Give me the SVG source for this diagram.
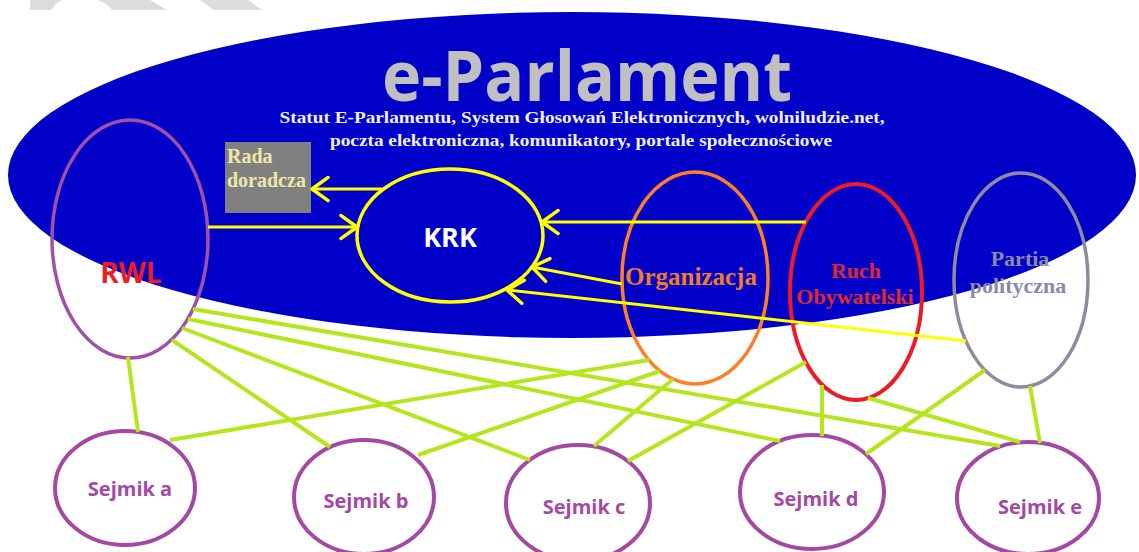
<svg xmlns="http://www.w3.org/2000/svg" width="1139" height="552" viewBox="0 0 1139 552">
<defs>
<style>
.ser{font-family:"Liberation Serif","Times New Roman",serif;font-weight:bold}
.sans{font-family:"Open Sans","Liberation Sans",Arial,sans-serif;font-weight:bold}
.sej{fill:none;stroke:#a349a4;stroke-width:4}
.sejt{font-family:"Open Sans","Liberation Sans",Arial,sans-serif;font-weight:bold;font-size:20px;fill:#a349a4;text-anchor:middle}
.g{stroke:#b5e61d;stroke-width:4;fill:none}
.y{stroke:#ffff00;stroke-width:3;fill:none}
.ya{stroke:#ffff00;stroke-width:3;fill:none;marker-end:url(#ah)}
</style>
<marker id="ah" markerUnits="userSpaceOnUse" markerWidth="30" markerHeight="30" refX="0" refY="0" viewBox="-16 -13 18 26" orient="auto" overflow="visible">
<path d="M-14,-10 L0,0 L-14,10" fill="none" stroke="#ffff00" stroke-width="3" stroke-linecap="round" stroke-linejoin="round"/>
</marker>
</defs>
<rect x="0" y="0" width="1139" height="552" fill="#ffffff"/>
<g id="watermark" fill="#dcdcdc">
<path d="M30,0 L62,0 Q54,4 52,10 L30,10 Z"/>
<path d="M98,0 L150,0 L167,10 L112,10 Q108,4 98,0 Z"/>
<path d="M200,0 L248,0 L262,10 L214,10 Z"/>
</g>
<g id="e-parlament">
<ellipse cx="572" cy="175" rx="564" ry="163" fill="#0000c8"/>
<text x="587" y="101" class="sans" font-size="70" fill="#c0c0c0" text-anchor="middle" textLength="410" lengthAdjust="spacingAndGlyphs">e-Parlament</text>
<text x="582" y="123" class="ser" font-size="17" fill="#f0f0ff" text-anchor="middle" textLength="605" lengthAdjust="spacingAndGlyphs">Statut E-Parlamentu, System Głosowań Elektronicznych, wolniludzie.net,</text>
<text x="581" y="146" class="ser" font-size="17" fill="#f0f0ff" text-anchor="middle" textLength="502" lengthAdjust="spacingAndGlyphs">poczta elektroniczna, komunikatory, portale społecznościowe</text>
</g>
<g id="rada">
<rect x="225" y="142" width="86" height="71" fill="#808080"/>
<text x="227" y="163" class="ser" font-size="20" fill="#eee8aa">Rada</text>
<text x="227" y="187" class="ser" font-size="20" fill="#eee8aa">doradcza</text>
</g>
<g id="rwl">
<ellipse cx="130" cy="239" rx="78" ry="119" fill="none" stroke="#a050a8" stroke-width="3.5"/>
<text x="131" y="283" class="sans" font-size="28" fill="#ee1c24" text-anchor="middle">RWL</text>
</g>
<g id="krk">
<ellipse cx="450" cy="235.5" rx="93" ry="66.5" fill="none" stroke="#ffff00" stroke-width="3.5"/>
<text x="450" y="247" class="sans" font-size="27" fill="#ffffff" text-anchor="middle">KRK</text>
</g>
<g id="organizacja">
<ellipse cx="695" cy="278" rx="73" ry="106" fill="none" stroke="#ff7f27" stroke-width="3.5"/>
<text x="691" y="285" class="ser" font-size="25" fill="#f47a2a" text-anchor="middle">Organizacja</text>
</g>
<g id="ruch">
<ellipse cx="856" cy="292" rx="66" ry="108" fill="none" stroke="#ed1c24" stroke-width="4"/>
<text x="856" y="278" class="ser" font-size="22" fill="#e0282d" text-anchor="middle">Ruch</text>
<text x="855" y="304" class="ser" font-size="22" fill="#e0282d" text-anchor="middle">Obywatelski</text>
</g>
<g id="partia">
<ellipse cx="1021" cy="280" rx="67" ry="107" fill="none" stroke="#8f8b9f" stroke-width="3.5"/>
<text x="1020" y="266" class="ser" font-size="22" fill="#8a8aa6" text-anchor="middle">Partia</text>
<text x="1018" y="293" class="ser" font-size="22" fill="#8a8aa6" text-anchor="middle">polityczna</text>
</g>
<g id="sejmik-a"><ellipse class="sej" cx="125" cy="488" rx="70" ry="57"/><text class="sejt" x="130" y="496">Sejmik a</text></g>
<g id="sejmik-b"><ellipse class="sej" cx="364" cy="497" rx="70" ry="57"/><text class="sejt" x="366" y="508">Sejmik b</text></g>
<g id="sejmik-c"><ellipse class="sej" cx="578" cy="503" rx="72" ry="58"/><text class="sejt" x="584" y="514">Sejmik c</text></g>
<g id="sejmik-d"><ellipse class="sej" cx="812" cy="492" rx="72" ry="57"/><text class="sejt" x="816" y="506">Sejmik d</text></g>
<g id="sejmik-e"><ellipse class="sej" cx="1028" cy="498" rx="71" ry="56"/><text class="sejt" x="1040" y="514">Sejmik e</text></g>
<g id="connectors">
<line class="g" x1="128" y1="357" x2="138" y2="432"/>
<line class="g" x1="172" y1="340" x2="330" y2="447"/>
<line class="g" x1="182" y1="328" x2="530" y2="460"/>
<line class="g" x1="188" y1="319" x2="780" y2="441"/>
<line class="g" x1="193" y1="309" x2="1000" y2="446"/>
<line class="g" x1="649" y1="360" x2="170" y2="440"/>
<line class="g" x1="660" y1="371" x2="418" y2="455"/>
<line class="g" x1="673" y1="379" x2="594" y2="446"/>
<line class="g" x1="806" y1="362" x2="628" y2="461"/>
<line class="g" x1="822" y1="385" x2="822" y2="436"/>
<line class="g" x1="868" y1="398" x2="1020" y2="442"/>
<line class="g" x1="985" y1="370" x2="866" y2="454"/>
<line class="g" x1="1030" y1="386" x2="1040" y2="443"/>
<line class="ya" x1="208" y1="227" x2="357" y2="227"/>
<line class="ya" x1="382" y1="189" x2="312" y2="189"/>
<line class="ya" x1="806" y1="222" x2="542" y2="222"/>
<line class="ya" x1="622" y1="284" x2="532" y2="267"/>
<line class="ya" x1="966" y1="341" x2="507" y2="290"/>
</g>
</svg>
